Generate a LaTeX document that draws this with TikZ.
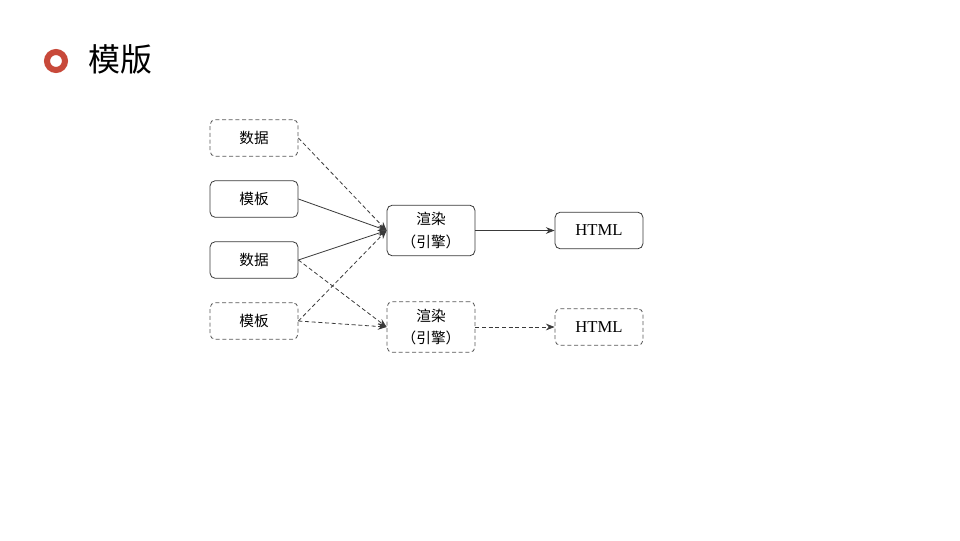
\documentclass[tikz,border=0pt]{standalone}
\usepackage{fontspec}
\setmainfont{Liberation Serif}
\newfontfamily\cjk{Noto Sans CJK SC}
\usetikzlibrary{arrows.meta}
\definecolor{ringred}{HTML}{C8493A}
\definecolor{edgegray}{HTML}{3A3A3A}
\tikzset{
  box/.style={draw=edgegray, rounded corners=4pt, minimum width=66pt, inner sep=0pt,
    font=\cjk\fontsize{11}{17}\selectfont, align=center, line width=0.6pt},
  inputbox/.style={box, minimum height=27.5pt},
  enginebox/.style={box, minimum height=38pt},
  htmlbox/.style={box, minimum height=27.5pt, font=\fontsize{12.5}{15}\selectfont},
  dashbox/.style={dash pattern=on 3pt off 2pt, draw=edgegray!85},
  flow/.style={-{Stealth[length=6.5pt,width=5pt]}, draw=edgegray, line width=0.6pt},
  dashflow/.style={flow, dash pattern=on 3pt off 2pt}
}
\begin{document}
\begin{tikzpicture}[x=0.75pt,y=-0.75pt]
			\useasboundingbox (0,0) rectangle (960,540);
			\fill[white] (0,0) rectangle (960,540);
			
			% heading
			\draw[ringred, line width=4.5pt] (56,61) circle (9);
			\node[anchor=west, font=\cjk\fontsize{24}{28}\selectfont] (title) at (84,59) {模版};
			
			% inputs
			\node[inputbox, dashbox] (data1) at (254,138) {数据};
			\node[inputbox] (tpl1) at (254,199) {模板};
			\node[inputbox] (data2) at (254,260) {数据};
			\node[inputbox, dashbox] (tpl2) at (254,321) {模板};
			
			% engines
			\node[enginebox] (eng1) at (431,230.5) {渲染\\（引擎）};
			\node[enginebox, dashbox] (eng2) at (431,327) {渲染\\（引擎）};
			
			% outputs
			\node[htmlbox] (html1) at (599,230.5) {HTML};
			\node[htmlbox, dashbox] (html2) at (599,327) {HTML};
			
			\draw[dashflow] (data1.east) -- (eng1.west);
			\draw[flow] (tpl1.east) -- (eng1.west);
			\draw[flow] (data2.east) -- (eng1.west);
			\draw[dashflow] (tpl2.east) -- (eng1.west);
			\draw[dashflow] (data2.east) -- (eng2.west);
			\draw[dashflow] (tpl2.east) -- (eng2.west);
			
			\draw[flow] (eng1.east) -- (html1.west);
			\draw[dashflow] (eng2.east) -- (html2.west);
			
		\end{tikzpicture}
\end{document}
